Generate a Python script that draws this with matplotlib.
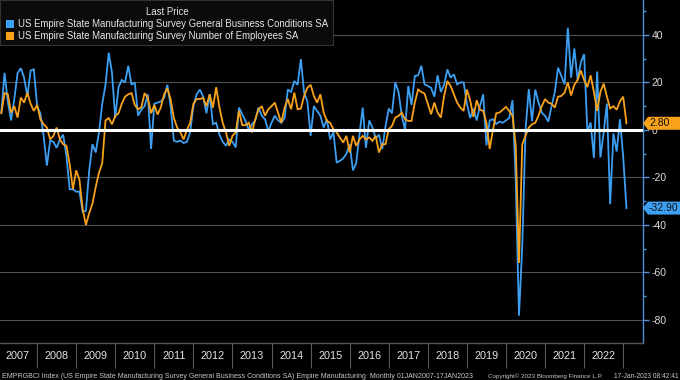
import matplotlib
matplotlib.use("Agg")
import matplotlib.pyplot as plt
from matplotlib.ticker import FixedLocator, NullFormatter, FixedFormatter, MultipleLocator
from matplotlib.patches import Rectangle, Polygon
import numpy as np

plt.rcParams['font.family'] = ['Liberation Sans', 'DejaVu Sans']

# ---------------- data (monthly, Jan 2007 .. Jan 2023) ----------------
start_year = 2007
gbc = [
    7.5, 24, 12, 4, 13, 24, 26, 22, 14, 25, 25.5, 10,            # 2007
    7, -2.5, -15, -4.6, -5, -7.5, -4, -2, -11, -25, -25, -26,    # 2008
    -26, -34.5, -34, -17, -6, -9.5, -1, 11, 19, 32.5, 24, 5,     # 2009
    18, 21, 20, 27, 19, 20, 6, 8.5, 10, 15, -8, 11,              # 2010
    11.5, 12, 13.5, 19, 10, -4.5, -5, -4.5, -5.5, -5, -1, 10,    # 2011
    15, 17, 14, 7, 15, 2.4, 3, -2, -5, -6.7, -4, -5,             # 2012
    -7.4, 9.4, 6.6, 3.8, 0, 2.4, 4, 9.4, 6, 4.5, -0.5, 3,        # 2013
    6, 4, 3, 5, 17, 16, 20.6, 19, 29.8, 15.7, 12, -2.5,          # 2014
    10, 8, 6, 1, 4.5, -4, -1, -13.8, -13, -12, -10, -6,          # 2015
    -17, -14, -2, 9.4, -7.5, 4, 1, -3.5, -2, -8, 1.5, 9,         # 2016
    7, 20, 16, 5.9, 0, 18.5, 10.5, 22.7, 23, 27, 19.2, 18.5,     # 2017
    17.7, 14, 23, 16, 19, 25.5, 22, 23.4, 19.2, 20, 20, 11,      # 2018
    5, 9, 4, 10, 15, -6.5, 4, 4.5, 2.5, 3.5, 3, 4,               # 2019
    5, 12.5, -21.5, -78.2, -48.5, -0.2, 17.2, 3.7, 17, 11.5, 7.3, 5.9,  # 2020
    3.5, 10, 16, 26.2, 22.7, 19.2, 43, 22, 34.3, 21, 28.5, 31.9,        # 2021
    -0.7, 3.1, -11.8, 24.6, -11.6, -1.2, 11.1, -31.3, -1.5, -9.1, 4.5, -11.2,  # 2022
    -32.9,                                                       # 2023
]
employees = [
    7, 15.5, 15, 7.3, 10, 5.2, 13.6, 11.5, 15.7, 11, 8, 10.5,        # 2007
    4.5, 2.4, 1, -4, -2.5, 1, -4, -6, -6.7, -14.5, -25, -17,         # 2008
    -21, -33.5, -40, -35, -31, -24, -18, -14, 4, 5, 2.4, 5.9,        # 2009
    7, 11, 14, 15, 15.5, 10.5, 8.7, 9.5, 15.5, 13.5, 7, 10.5,        # 2010
    6.5, 9.5, 15, 17.5, 13, 5, 1, -1, -4, 0, 3, 11,                  # 2011
    13, 13, 13.5, 10, 15, 9.4, 18, 9.4, 3, -1, -6.7, -2.5,           # 2012
    -1, 8, 2, 2, 3, -1, 4.5, 8.7, 10, 6, 8.7, 10,                    # 2013
    11.5, 7.3, 3, 9.4, 13, 8.7, 15.7, 8.7, 9, 14.3, 17.8, 19,        # 2014
    14.3, 11.5, 15, 7.3, 3.8, 3, 0.3, -1, -3.2, -5.3, -2.5, -9.5,    # 2015
    -2.5, -6.7, -4, -2.5, -4, -3.2, -4.6, -2.5, -9.5, -6, -6, 0.3,   # 2016
    1.7, 5.2, 5.9, 7.3, 4.5, 3.8, 3.8, 11.5, 17, 16, 15.3, 11,       # 2017
    6.6, 11.5, 7.3, 5.2, 14.3, 20.6, 18.5, 15, 11.5, 9.4, 8, 17,     # 2018
    12.5, 5.5, 12.5, 8.5, 8, 3, -8, 0, 7, 7.3, 8.5, 9.7,             # 2019
    8, 6, -6.7, -56, -6, -2.5, 1, 2.4, 3, 6, 10, 13,                 # 2020
    11.5, 11, 9.4, 14, 14.3, 15.7, 20, 14.5, 19, 21, 25, 21,         # 2021
    18, 23, 16, 8, 16, 19.5, 14, 9, 10, 8.5, 12, 14,                 # 2022
    2.8,                                                             # 2023
]
year_labels = [str(y) for y in range(2007, 2023)]
y_ticks = [-80, -60, -40, -20, 0, 20, 40]
series_names = ["US Empire State Manufacturing Survey General Business Conditions SA",
                "US Empire State Manufacturing Survey Number of Employees SA"]
last_gbc = "-32.90"
last_emp = "2.80"

BLUE = '#3d9ff2'
ORANGE = '#f8a21c'

# x positions: end of each month as fractional year
x = start_year + (np.arange(len(gbc)) + 1) / 12.0

W, H = 680, 380
fig = plt.figure(figsize=(W / 100, H / 100), dpi=100, facecolor='black')
ax_right_px, ax_bottom_px = 643, 343
ax = fig.add_axes([0, 1 - ax_bottom_px / H, ax_right_px / W, ax_bottom_px / H])
ax.set_facecolor('black')

ax.plot(x, gbc, color=BLUE, lw=1.3, zorder=2, solid_joinstyle='miter')
ax.plot(x, employees, color=ORANGE, lw=1.3, zorder=2.1, solid_joinstyle='miter')
ax.axhline(0, color='white', lw=2.2, zorder=3)

ax.set_ylim(-89.7, 54.7)
ax.set_xlim(2007.05, 2023.507)

# y axis on right
ax.yaxis.tick_right()
ax.set_yticks(y_ticks)
ax.set_yticklabels([str(v) for v in y_ticks])
ax.yaxis.set_minor_locator(MultipleLocator(10))
ax.tick_params(axis='y', which='major', direction='out', length=4, width=1,
               color='#4f8fd6', labelcolor='#dcdcdc', labelsize=7.5, pad=2)
ax.tick_params(axis='y', which='minor', direction='out', length=2.5, width=1,
               color='#4f8fd6')
ax.grid(axis='y', which='major', color='#505050', lw=0.8, zorder=1)

# x axis: separators at year boundaries, labels at mid-year
years = list(range(2007, 2023))
ax.xaxis.set_major_locator(FixedLocator([y + 1 for y in years]))
ax.xaxis.set_major_formatter(NullFormatter())
ax.xaxis.set_minor_locator(FixedLocator([y + 0.5 for y in years]))
ax.xaxis.set_minor_formatter(FixedFormatter(year_labels))
ax.tick_params(axis='x', which='major', direction='out', length=18, width=0.8,
               color='#5a5a5a')
ax.tick_params(axis='x', which='minor', length=0, pad=6, labelsize=7.8,
               labelcolor='#e6e6e6')

for s in ['left', 'top']:
    ax.spines[s].set_visible(False)
ax.spines['right'].set_color('#4f8fd6')
ax.spines['right'].set_linewidth(1)
ax.spines['bottom'].set_color('#555555')
ax.spines['bottom'].set_linewidth(1)

# last-value tags
fig.canvas.draw()
def tag(val, text, color):
    px, py = ax.transData.transform((2023.0, val))
    xr = ax_right_px
    hh = 6.5
    pts = [(xr, py), (xr + 5, py + hh), (W, py + hh), (W, py - hh), (xr + 5, py - hh)]
    pts = [(a / W, b / H) for a, b in pts]
    fig.patches.append(Polygon(pts, closed=True, transform=fig.transFigure,
                               fc=color, ec='none', zorder=5))
    fig.text((xr + 6) / W, py / H, text, ha='left', va='center', fontsize=7.5,
             color='#101010', zorder=6)

tag(employees[-1], last_emp, ORANGE)
tag(gbc[-1], last_gbc, BLUE)

# legend box
fig.patches.append(Rectangle((0, 1 - 45 / H), 333 / W, 45 / H, transform=fig.transFigure,
                             fc='#0b0b0b', ec='#333333', lw=0.8, zorder=4))
fig.text(167 / W, 1 - 12 / H, "Last Price", ha='center', va='center', fontsize=6.9,
         color='#e6e6e6', zorder=6)
for i, (name, col) in enumerate(zip(series_names, [BLUE, ORANGE])):
    yc = 24 + i * 12
    fig.patches.append(Rectangle((6 / W, 1 - (yc + 4) / H), 8 / W, 8 / H,
                                 transform=fig.transFigure, fc=col, ec='none', zorder=5))
    fig.text(18 / W, 1 - yc / H, name, ha='left', va='center', fontsize=6.9,
             color='#e6e6e6', zorder=6)

# footer
fy = 1 - 376 / H
fig.text(2 / W, fy, "EMPRGBCI Index (US Empire State Manufacturing Survey General Business "
         "Conditions SA) Empire Manufacturing  Monthly 01JAN2007-17JAN2023",
         ha='left', va='center', fontsize=5.0, color='#c8c8c8')
fig.text(488 / W, fy, "Copyright\u00a9 2023 Bloomberg Finance L.P.", ha='left', va='center',
         fontsize=4.5, color='#c8c8c8')
fig.text(679 / W, fy, "17-Jan-2023 08:42:41", ha='right', va='center', fontsize=4.8,
         color='#c8c8c8')

fig.savefig('out.png', dpi=100, facecolor='black')
